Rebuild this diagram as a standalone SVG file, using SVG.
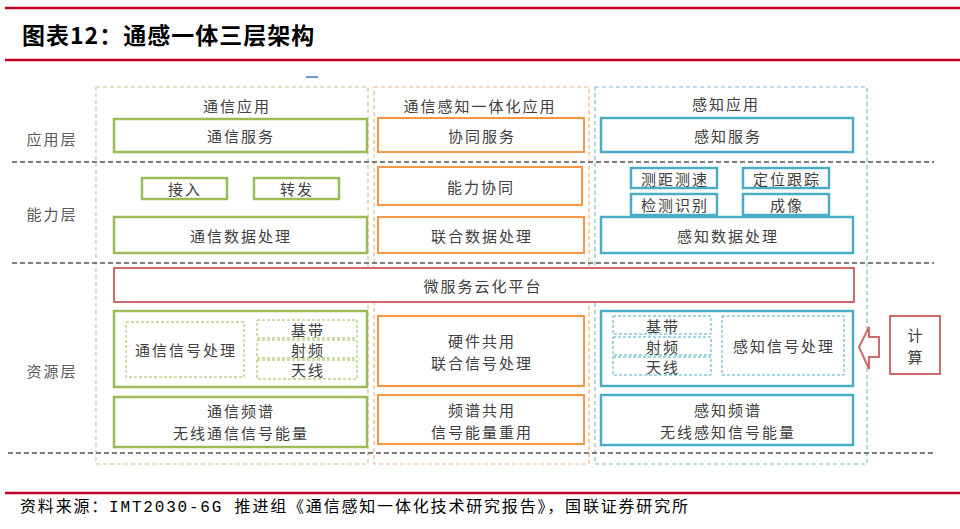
<svg xmlns="http://www.w3.org/2000/svg" width="960" height="529" viewBox="0 0 960 529">
<style>
text{font-family:"Noto Sans CJK SC","Liberation Sans",sans-serif;fill:#404040;font-size:15px;letter-spacing:2px;text-anchor:middle;dominant-baseline:central}
.title{font-size:23px;font-weight:bold;fill:#000;text-anchor:start;dominant-baseline:alphabetic;letter-spacing:1px}
.src{font-family:"Liberation Mono","Noto Sans CJK SC",monospace;font-size:16px;fill:#000;text-anchor:start;dominant-baseline:alphabetic;letter-spacing:0}
.layer{fill:#595959}
.rule{stroke:#C00020;stroke-width:2.5;fill:none}
.sep{stroke:#555;stroke-width:1.5;stroke-dasharray:5 3;fill:none}
.cg{fill:none;stroke:#B7D08A;stroke-width:1.2;stroke-dasharray:4 3}
.co{fill:none;stroke:#F4B183;stroke-width:1.2;stroke-dasharray:4 3}
.cb{fill:none;stroke:#7DBCD6;stroke-width:1.2;stroke-dasharray:4 3}
.g{fill:#fff;stroke:#9BBB59;stroke-width:2.5}
.o{fill:#fff;stroke:#F79646;stroke-width:2}
.b{fill:#fff;stroke:#4BACC6;stroke-width:2.5}
.r{fill:#fff;stroke:#CF6A6A;stroke-width:2}
.gd{fill:none;stroke:#9BBB59;stroke-width:1;stroke-dasharray:3 2}
.bd{fill:none;stroke:#4BACC6;stroke-width:1;stroke-dasharray:3 2}
</style>
<rect width="960" height="529" fill="#fff"/>
<line class="rule" x1="5" y1="8" x2="960" y2="8"/>
<text class="title" x="22" y="44">图表12：通感一体三层架构</text>
<line class="rule" x1="5" y1="60" x2="960" y2="60"/>
<line x1="306" y1="77" x2="318" y2="77" stroke="#4472C4" stroke-width="1.5"/>

<g id="containers">
<rect class="cg" x="96" y="87" width="272" height="377"/>
<rect class="co" x="374" y="87" width="215" height="377"/>
<rect class="cb" x="595" y="87" width="272" height="377"/>
</g>
<g id="separators">
<line class="sep" x1="12" y1="162" x2="934" y2="162"/>
<line class="sep" x1="12" y1="263" x2="934" y2="263"/>
<line class="sep" x1="8" y1="453" x2="934" y2="453"/>
</g>
<g id="layer-labels">
<text class="layer" x="52" y="138">应用层</text>
<text class="layer" x="52" y="213">能力层</text>
<text class="layer" x="52" y="370">资源层</text>
</g>
<g id="headers">
<text x="237" y="105">通信应用</text>
<text x="480" y="105">通信感知一体化应用</text>
<text x="726" y="103">感知应用</text>
</g>

<g id="comm-service"><rect class="g" x="114" y="119" width="253" height="33"/><text x="241" y="135">通信服务</text></g>
<g id="access"><rect class="g" x="142" y="178" width="85" height="21"/><text x="185" y="188">接入</text></g>
<g id="forward"><rect class="g" x="254" y="178" width="85" height="21"/><text x="297" y="188">转发</text></g>
<g id="comm-data"><rect class="g" x="114" y="217" width="253" height="36"/><text x="241" y="235">通信数据处理</text></g>

<g id="coop-service"><rect class="o" x="378" y="118" width="206" height="34"/><text x="482" y="135">协同服务</text></g>
<g id="cap-coop"><rect class="o" x="378" y="167" width="204" height="38"/><text x="481" y="186">能力协同</text></g>
<g id="joint-data"><rect class="o" x="378" y="217" width="206" height="36"/><text x="482" y="235">联合数据处理</text></g>

<g id="sense-service"><rect class="b" x="601" y="118" width="252" height="34"/><text x="728" y="135">感知服务</text></g>
<g id="ranging"><rect class="b" x="631" y="168" width="86" height="20"/><text x="675" y="178">测距测速</text></g>
<g id="tracking"><rect class="b" x="743" y="168" width="86" height="20"/><text x="787" y="178">定位跟踪</text></g>
<g id="detect"><rect class="b" x="631" y="194" width="86" height="21"/><text x="675" y="204">检测识别</text></g>
<g id="imaging"><rect class="b" x="743" y="194" width="86" height="21"/><text x="787" y="204">成像</text></g>
<g id="sense-data"><rect class="b" x="601" y="217" width="252" height="36"/><text x="728" y="235">感知数据处理</text></g>

<g id="cloud"><rect class="r" x="114" y="268" width="740" height="34"/><text x="483" y="285">微服务云化平台</text></g>

<g id="comm-signal">
<rect class="g" x="114" y="311" width="253" height="76"/>
<rect class="gd" x="126" y="322" width="118" height="55"/>
<text x="186" y="349">通信信号处理</text>
<rect class="gd" x="257" y="320" width="100" height="18"/><text x="308" y="329">基带</text>
<rect class="gd" x="257" y="340" width="100" height="18"/><text x="308" y="349">射频</text>
<rect class="gd" x="257" y="360" width="100" height="19"/><text x="308" y="369">天线</text>
</g>
<g id="comm-spectrum"><rect class="g" x="114" y="397" width="253" height="50"/><text x="241" y="410">通信频谱</text><text x="241" y="432">无线通信信号能量</text></g>

<g id="hw-share"><rect class="o" x="378" y="316" width="206" height="70"/><text x="482" y="340">硬件共用</text><text x="482" y="362">联合信号处理</text></g>
<g id="spec-share"><rect class="o" x="378" y="395" width="206" height="49"/><text x="482" y="409">频谱共用</text><text x="482" y="431">信号能量重用</text></g>

<g id="sense-signal">
<rect class="b" x="601" y="311" width="252" height="75"/>
<rect class="bd" x="613" y="316" width="98" height="18"/><text x="663" y="325">基带</text>
<rect class="bd" x="613" y="337" width="98" height="18"/><text x="663" y="346">射频</text>
<rect class="bd" x="613" y="357" width="98" height="18"/><text x="663" y="366">天线</text>
<rect class="bd" x="722" y="316" width="122" height="59"/>
<text x="784" y="345">感知信号处理</text>
</g>
<g id="sense-spectrum"><rect class="b" x="601" y="395" width="252" height="50"/><text x="728" y="409">感知频谱</text><text x="728" y="431">无线感知信号能量</text></g>

<g id="compute"><rect class="r" x="890" y="316" width="50" height="58"/><text x="916" y="334">计</text><text x="916" y="356">算</text></g>
<g id="connectors">
<polygon points="859,347 869,327 869,337 879,337 879,357 869,357 869,369" fill="#fff" stroke="#CF6A6A" stroke-width="2" stroke-linejoin="miter"/>
</g>

<line class="rule" x1="5" y1="493" x2="960" y2="493"/>
<text class="src" x="20" y="512" textLength="668" lengthAdjust="spacing">资料来源：IMT2030-6G 推进组《通信感知一体化技术研究报告》，国联证券研究所</text>
</svg>
